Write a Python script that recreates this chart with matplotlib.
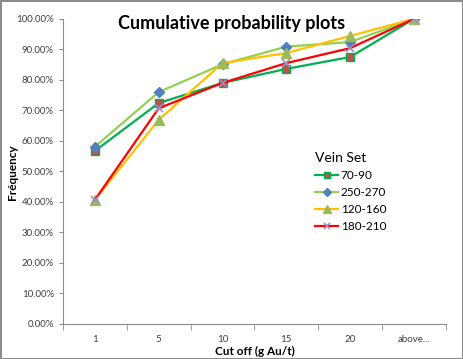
import numpy as np
import matplotlib
matplotlib.use("Agg")
import matplotlib.pyplot as plt

plt.rcParams['font.family'] = ['Lato', 'DejaVu Sans']

cutoffs = ['1', '5', '10', '15', '20', 'above...']
v70_90 = [56.7, 72.4, 79.0, 83.6, 87.5, 100.0]
v250_270 = [58.1, 76.0, 85.1, 90.9, 92.4, 100.0]
v120_160 = [40.7, 66.9, 85.5, 88.8, 94.4, 100.0]
v180_210 = [40.7, 70.7, 79.0, 85.5, 90.4, 100.0]

fig = plt.figure(figsize=(4.63, 3.59), dpi=100)
fig.patch.set_edgecolor('#8c8c8c')
fig.patch.set_linewidth(2)
ax = fig.add_axes([0.136, 0.0975, 0.827, 0.85])

x = np.arange(len(cutoffs))
ax.plot(x, v70_90, color='#00B050', lw=1.6, marker='s', ms=6,
        mfc='#C0504D', mec='#00B050', mew=1, label='70-90')
ax.plot(x, v250_270, color='#92D050', lw=1.6, marker='D', ms=5,
        mfc='#4F81BD', mec='#4F81BD', label='250-270')
ax.plot(x, v120_160, color='#FFC000', lw=1.6, marker='^', ms=7,
        mfc='#9BBB59', mec='#9BBB59', label='120-160')
ax.plot(x, v180_210, color='#FF0000', lw=1.6, marker='x', ms=6,
        mec='#A08CC8', mew=1.2, label='180-210')

ax.set_xlim(-0.5, len(cutoffs) - 0.5)
ax.set_ylim(0, 100)
ax.set_yticks(np.arange(0, 101, 10))
ax.set_yticklabels(['%.2f%%' % v for v in np.arange(0, 101, 10)])
ax.set_xticks(x)
ax.set_xticklabels(cutoffs)
ax.set_xticks(np.arange(-0.5, len(cutoffs)), minor=True)
ax.tick_params(axis='x', which='major', length=0, labelsize=7, colors='#404040', pad=8)
ax.tick_params(axis='x', which='minor', length=4, color='#8c8c8c')
ax.tick_params(axis='y', length=3, color='#8c8c8c', labelsize=7, labelcolor='#404040')

for s in ['top', 'right']:
    ax.spines[s].set_visible(False)
for s in ['left', 'bottom']:
    ax.spines[s].set_color('#8c8c8c')

ax.set_xlabel('Cut off (g Au/t)', fontsize=8.5, fontweight='bold', labelpad=1)
fig.text(0.028, 0.52, 'Fréquency', rotation=90, ha='center', va='center',
         fontsize=8.5, fontweight='bold')
fig.text(0.5, 0.958, 'Cumulative probability plots', ha='center', va='top',
         fontsize=13, fontweight='bold')

leg = ax.legend(loc='upper left', bbox_to_anchor=(0.63, 0.598), frameon=False,
                title='Vein Set', fontsize=8.5, handlelength=2.0,
                handletextpad=0.2, labelspacing=0.5, markerscale=0.8)
leg.get_title().set_fontsize(10)
leg._legend_box.align = 'left'

fig.savefig('out.png', dpi=100, edgecolor=fig.get_edgecolor())
